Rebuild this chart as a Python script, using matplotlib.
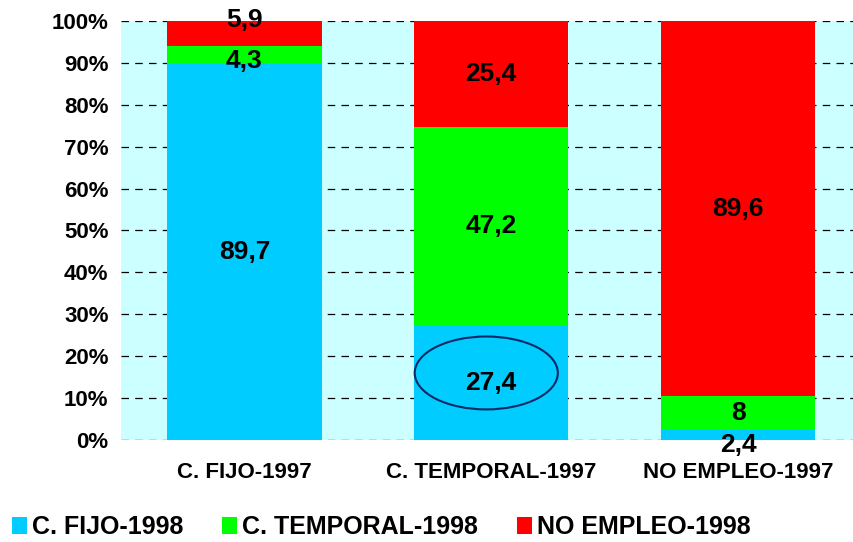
import matplotlib
matplotlib.use("Agg")
import matplotlib.pyplot as plt
from matplotlib.patches import Ellipse, Patch
import numpy as np

categories = ["C. FIJO-1997", "C. TEMPORAL-1997", "NO EMPLEO-1997"]
series_names = ["C. FIJO-1998", "C. TEMPORAL-1998", "NO EMPLEO-1998"]
fijo = [89.7, 27.4, 2.4]
temporal = [4.3, 47.2, 8.0]
no_empleo = [5.9, 25.4, 89.6]
labels_fijo = ["89,7", "27,4", "2,4"]
labels_temporal = ["4,3", "47,2", "8"]
labels_no_empleo = ["5,9", "25,4", "89,6"]
colors = ["#00CCFF", "#00FF00", "#FF0000"]
yticks = [0, 10, 20, 30, 40, 50, 60, 70, 80, 90, 100]

plt.rcParams['font.family'] = ['Liberation Sans', 'DejaVu Sans']

fig = plt.figure(figsize=(8.54, 5.42), dpi=100)
ax = fig.add_axes([121/854, 1-440/542, 1-121/854, (440-21)/542])
ax.set_facecolor("#CCFFFF")

x = np.arange(len(categories))
width = 0.625
data = [fijo, temporal, no_empleo]
labels = [labels_fijo, labels_temporal, labels_no_empleo]
bottom = np.zeros(len(categories))
# small adjustment of label placement for thin segments (as in original)
label_shift = [[0, 0, -2.3], [-1.4, 0, 0], [3.2, 0, 0]]
for s, (vals, labs, col) in enumerate(zip(data, labels, colors)):
    vals = np.array(vals)
    ax.bar(x, vals, width, bottom=bottom, color=col, zorder=2)
    for i in range(len(categories)):
        yc = bottom[i] + vals[i] / 2 + label_shift[s][i]
        ax.text(x[i], yc, labs[i], ha="center", va="center", fontsize=19,
                fontweight="bold", color="black", zorder=4)
    bottom += vals

ax.add_patch(Ellipse((0.98, 16.0), 0.58, 17.4, fill=False, edgecolor="#0A2A66",
                     lw=1.5, zorder=3))

ax.set_xlim(-0.5, 2.47)
ax.set_ylim(0, 100)
ax.set_yticks(yticks)
ax.set_yticklabels([f"{v}%" for v in yticks], fontsize=16, fontweight="bold")
ax.set_xticks(x)
ax.set_xticklabels(categories, fontsize=16, fontweight="bold")
ax.tick_params(axis="y", length=0, pad=9)
ax.tick_params(axis="x", length=0, pad=16)
for sp in ax.spines.values():
    sp.set_visible(False)
ax.yaxis.grid(True, linestyle=(0, (6, 5)), color="black", lw=0.9, zorder=1)
ax.set_axisbelow(True)

handles = [Patch(facecolor=c, edgecolor="none") for c in colors]
leg = fig.legend(handles, series_names, loc="center left",
                 bbox_to_anchor=(12/854, 1-527/542), borderpad=0, borderaxespad=0,
                 ncol=3, frameon=False, handlelength=0.6, handleheight=0.7,
                 handletextpad=0.2, columnspacing=1.55,
                 prop={"weight": "bold", "size": 18})

fig.savefig("out.png", dpi=100)
